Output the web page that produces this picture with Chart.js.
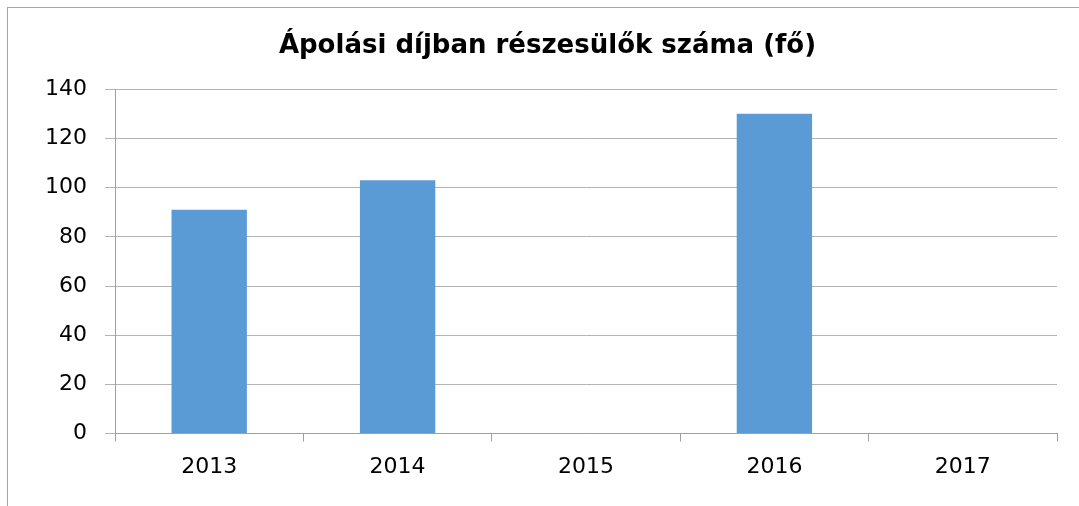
<!DOCTYPE html>
<html>
<head>
<meta charset="utf-8">
<script src="https://cdn.jsdelivr.net/npm/chart.js@4"></script>
<style>
  html, body { margin: 0; padding: 0; background: #fff; }
  #wrap { position: relative; width: 1079px; height: 506px; }
  #frame { position: absolute; left: 7px; top: 7px; right: -2px; bottom: -2px; border-left: 1px solid #a6a6a6; border-top: 1px solid #a6a6a6; }
  canvas { position: absolute; left: 0; top: 0; }
</style>
</head>
<body>
<div id="wrap">
  <div id="frame"></div>
  <canvas id="chart" width="1079" height="506"></canvas>
</div>
<script>
// chart data
const years = ['2013', '2014', '2015', '2016', '2017'];
const recipients = [91, 103, 0, 130, 0];
const chartTitle = 'Ápolási díjban részesülők száma (fő)';

const FONT = "'DejaVu Sans', sans-serif";

document.addEventListener('DOMContentLoaded', () => {
  const ctx = document.getElementById('chart').getContext('2d');
  new Chart(ctx, {
    type: 'bar',
    data: {
      labels: years,
      datasets: [{
        data: recipients,
        backgroundColor: '#5B9BD5',
        barPercentage: 0.8, categoryPercentage: 0.5
      }]
    },
    options: {
      responsive: false, animation: false,
      layout: { padding: { left: 38, right: 22, top: 0, bottom: 14 } },
      plugins: {
        legend: { display: false },
        tooltip: { enabled: false },
        title: {
          display: true, text: chartTitle, color: '#000',
          font: { family: FONT, size: 26, weight: 'bold' },
          padding: { top: 31, bottom: 27 }
        }
      },
      scales: {
        x: {
          grid: { drawOnChartArea: false, color: '#a0a0a0', tickLength: 8, offset: true },
          border: { color: '#a0a0a0' },
          ticks: { color: '#000', font: { family: FONT, size: 22 }, padding: 12 }
        },
        y: {
          min: 0, max: 140,
          afterFit: (s) => { s.width = 77; },
          grid: { color: '#b3b3b3', tickLength: 10 },
          border: { color: '#a0a0a0' },
          ticks: { stepSize: 20, color: '#000', font: { family: FONT, size: 22 }, padding: 18 }
        }
      }
    }
  });
});
</script>
</body>
</html>
